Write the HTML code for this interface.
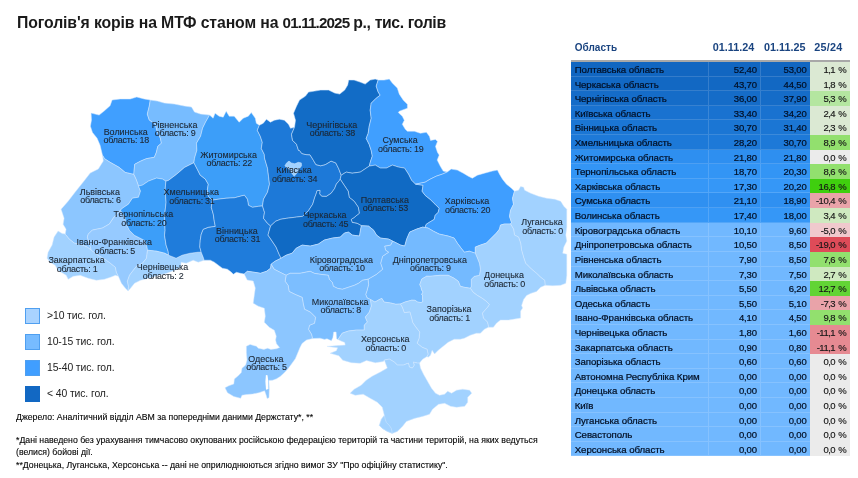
<!DOCTYPE html>
<html lang="uk"><head><meta charset="utf-8"><title>Поголів'я корів на МТФ</title>
<style>
html,body{margin:0;padding:0;background:#fff;}
body{width:858px;height:478px;position:relative;overflow:hidden;font-family:"Liberation Sans","DejaVu Sans",sans-serif;}
#title,.lt,.fn,#th,#tb,#map{will-change:transform;}
#title{position:absolute;left:17.2px;top:13.4px;font-size:15.8px;font-weight:bold;color:#1a1a1a;white-space:nowrap;line-height:20px;}
#map{position:absolute;left:0;top:0;width:858px;height:478px;}
#map text{font-family:"Liberation Sans","DejaVu Sans",sans-serif;font-size:8.95px;fill:#1c2632;stroke:#1c2632;stroke-width:.1px;text-anchor:middle;}
#map text.l2{letter-spacing:-0.24px;}
.lg{position:absolute;left:25.4px;width:12.7px;height:13.6px;border:1px solid #4f9ff0;}
.lt{position:absolute;left:47.2px;margin-top:1.2px;font-size:10.4px;letter-spacing:-0.1px;color:#222;white-space:nowrap;line-height:14px;}
.fn{position:absolute;left:16px;font-size:8.73px;color:#000;-webkit-text-stroke:0.12px #111;white-space:nowrap;line-height:12px;}
#th{position:absolute;left:0;top:39.1px;height:16px;font-weight:bold;font-size:10px;color:#1a4480;line-height:16px;}
#th span{position:absolute;white-space:nowrap;}
#th .hn{font-size:10.8px;letter-spacing:.03px;}
#tb{position:absolute;left:571px;top:59.8px;width:279.2px;border-top:2px solid #a8a8a8;}
.r{position:relative;height:14.62px;width:279.2px;font-size:9.7px;letter-spacing:-0.08px;line-height:15.6px;color:#020f24;-webkit-text-stroke:0.22px #020f24;}
.r span{position:absolute;top:0;height:100%;box-sizing:border-box;white-space:nowrap;}
.n{left:0;width:138px;padding-left:3.7px;border-right:1px solid rgba(255,255,255,.15);border-bottom:1px solid rgba(255,255,255,.15);}
.a{left:138px;width:52.4px;text-align:right;padding-right:3.6px;font-size:9.5px;letter-spacing:-0.15px;border-right:1px solid rgba(255,255,255,.15);border-bottom:1px solid rgba(255,255,255,.15);}
.b{left:190.4px;width:48.8px;text-align:right;padding-right:3.6px;font-size:9.5px;letter-spacing:-0.15px;border-bottom:1px solid rgba(255,255,255,.15);}
.p{left:239.2px;width:40px;text-align:right;padding-right:4px;color:#111;-webkit-text-stroke:0.15px #222;font-size:9.5px;letter-spacing:-0.5px;word-spacing:1px;}
.c0{background:#1469c4;} .c1{background:#1b77d6;} .c2{background:#2f90f1;} .c3{background:#71b8ff;}
.z{background:#ebebeb;} .g1{background:#dbe9d3;} .g2{background:#cfe9c0;} .g3{background:#b4e6a0;} .g4{background:#92e06e;} .g5{background:#62d435;} .g6{background:#3fcf0e;}
.r1{background:#f0c9cd;} .r2{background:#e9a3a9;} .r3{background:#e68a92;} .r4{background:#de4b58;}
</style></head><body>
<svg id="map" width="858" height="478" viewBox="0 0 858 478">
<g stroke="#d4e9ff" stroke-opacity=".62" stroke-width=".8" stroke-linejoin="round">
<path fill="#409fff" d="M102.5,155.3 100.1,145.3 97.1,138.2 92.5,132.6 90.4,126.2 91.5,120.1 91.1,113.1 99.1,115.1 104.1,111.1 110.1,105.7 112.1,100.0 120.2,99.0 130.2,99.0 136.7,97.0 144.3,99.0 150.3,100.0 149.3,106.1 147.3,114.1 149.3,120.1 155.3,124.2 157.4,132.2 160.4,138.2 161.4,143.2 157.8,146.3 156.4,152.3 154.3,157.3 146.3,158.7 140.3,161.3 134.7,164.3 133.8,174.4 125.2,172.4 119.2,167.4 110.1,162.3 104.5,158.7Z"/>
<path fill="#77bcff" d="M150.3,100.0 157.4,101.1 164.4,103.1 174.4,104.1 184.5,106.1 191.5,107.1 194.5,112.1 200.6,114.1 209.6,115.1 205.6,122.1 202.6,128.2 200.6,136.2 196.5,143.2 196.9,150.3 194.5,158.3 193.9,162.7 184.5,167.4 176.4,174.4 168.4,180.4 165.9,181.2 162.6,179.1 156.5,178.1 148.5,181.1 142.5,185.1 138.5,186.1 136.4,180.1 133.8,174.4 134.7,164.3 140.3,161.3 146.3,158.7 154.3,157.3 156.4,152.3 157.8,146.3 161.4,143.2 160.4,138.2 157.4,132.2 155.3,124.2 149.3,120.1 147.3,114.1 149.3,106.1Z"/>
<path fill="#8cc6ff" d="M65.2,234.1 66.1,229.3 63.1,224.3 64.1,218.3 61.1,209.2 68.1,201.2 75.2,192.1 83.2,182.1 90.2,173.1 98.3,169.0 103.3,161.0 102.5,155.3 104.5,158.7 110.1,162.3 119.2,167.4 125.2,172.4 133.8,174.4 136.4,180.1 138.5,186.1 140.5,191.1 138.5,197.2 132.4,198.2 128.4,204.2 122.4,208.2 120.4,210.2 113.4,218.0 109.4,224.0 102.3,228.1 92.3,230.1 88.3,234.1 87.3,237.1 89.3,243.1 91.3,250.2 87.3,247.1 82.2,245.1 74.2,243.1 69.2,239.1Z"/>
<path fill="#a2d2ff" d="M118.4,276.3 115.4,275.3 110.4,277.3 104.3,279.3 96.3,280.3 88.3,278.3 80.2,275.3 73.2,276.3 68.2,279.3 66.2,275.3 58.1,270.3 55.1,265.2 50.1,262.2 47.1,258.2 48.1,252.2 52.1,245.1 54.1,237.1 58.1,231.1 62.1,233.5 65.2,234.1 69.2,239.1 74.2,243.1 82.2,245.1 87.3,247.1 91.3,250.2 98.3,255.2 106.4,260.2 110.4,263.2 115.4,267.2 116.4,272.3Z"/>
<path fill="#96caff" d="M91.3,250.2 89.3,243.1 87.3,237.1 88.3,234.1 92.3,230.1 102.3,228.1 109.4,224.0 113.4,218.0 120.4,210.2 124.4,216.3 126.4,224.3 129.4,230.3 134.4,235.3 144.5,240.4 146.9,246.4 147.5,250.2 146.5,258.2 142.5,263.2 136.5,266.2 132.5,271.3 129.5,275.3 127.4,281.3 128.5,286.3 128.1,290.9 125.4,288.3 121.4,283.3 118.4,276.3 116.4,272.3 115.4,267.2 110.4,263.2 106.4,260.2 98.3,255.2Z"/>
<path fill="#3c9ef9" d="M138.5,186.1 142.5,185.1 148.5,181.1 156.5,178.1 162.6,179.1 165.9,181.2 165.1,190.2 166.1,202.2 164.5,216.3 165.1,230.4 164.5,235.1 166.1,245.1 168.1,251.2 168.6,255.2 164.6,253.2 156.6,251.2 147.5,250.2 146.9,246.4 144.5,240.4 134.4,235.3 129.4,230.3 126.4,224.3 124.4,216.3 120.4,210.2 122.4,208.2 128.4,204.2 132.4,198.2 138.5,197.2 140.5,191.1Z"/>
<path fill="#a2d2ff" d="M147.5,250.2 156.6,251.2 164.6,253.2 168.6,255.2 176.1,258.2 182.1,255.2 190.2,253.2 198.2,252.2 201.2,252.2 203.2,257.2 204.2,260.2 198.2,262.2 193.2,260.2 186.2,263.2 181.1,262.2 180.7,267.2 174.7,270.3 166.6,273.3 158.6,275.3 148.5,278.3 140.5,280.3 134.5,283.3 130.5,288.3 128.1,290.9 128.5,286.3 127.4,281.3 129.5,275.3 132.5,271.3 136.5,266.2 142.5,263.2 146.5,258.2Z"/>
<path fill="#1f7cdb" d="M165.9,181.2 168.4,180.4 176.4,174.4 184.5,167.4 193.9,162.7 197.2,169.1 200.2,175.1 205.3,179.1 208.3,184.2 207.3,190.2 208.3,196.2 212.3,200.2 211.3,207.3 213.3,214.3 214.3,221.3 215.3,226.4 208.3,227.4 203.2,229.4 201.2,234.4 200.2,240.4 199.8,247.1 201.2,252.2 198.2,252.2 190.2,253.2 182.1,255.2 176.1,258.2 168.6,255.2 168.1,251.2 166.1,245.1 164.5,235.1 165.1,230.4 164.5,216.3 166.1,202.2 165.1,190.2Z"/>
<path fill="#3c9ef9" d="M209.6,115.1 213.1,118.2 215.1,113.2 219.1,116.2 223.2,117.2 226.2,111.2 229.2,116.2 234.2,116.2 239.2,122.2 243.2,118.2 248.3,116.2 251.3,112.6 255.3,118.2 256.3,123.2 259.3,125.3 257.3,130.3 260.3,136.3 262.3,142.3 261.3,148.4 264.3,154.4 264.5,158.0 267.5,168.1 268.5,176.1 269.5,184.2 267.5,192.2 263.5,199.2 262.5,205.9 258.5,206.3 252.5,207.3 248.5,205.3 247.4,199.2 244.4,195.2 240.4,196.2 234.4,197.8 226.4,198.2 218.3,199.2 212.3,200.2 208.3,196.2 207.3,190.2 208.3,184.2 205.3,179.1 200.2,175.1 197.2,169.1 193.9,162.7 194.5,158.3 196.9,150.3 196.5,143.2 200.6,136.2 202.6,128.2 205.6,122.1Z"/>
<path fill="#1f7cdb" d="M212.3,200.2 218.3,199.2 226.4,198.2 234.4,197.8 240.4,196.2 244.4,195.2 247.4,199.2 248.5,205.3 252.5,207.3 258.5,206.3 262.5,205.9 264.5,212.3 263.5,218.3 267.5,223.3 270.6,225.9 268.0,235.1 272.1,241.1 276.1,247.1 279.1,254.2 281.1,258.2 275.1,261.2 271.1,264.2 270.6,268.2 266.5,271.3 260.5,273.3 254.5,272.3 247.4,271.3 244.2,274.0 240.4,273.3 236.4,272.3 233.4,274.3 231.4,272.3 227.4,269.2 222.3,268.2 218.3,265.2 214.3,262.2 210.3,260.2 204.2,260.2 203.2,257.2 201.2,252.2 199.8,247.1 200.2,240.4 201.2,234.4 203.2,229.4 208.3,227.4 215.3,226.4 214.3,221.3 213.3,214.3 211.3,207.3Z"/>
<path fill="#1d79d8" d="M259.3,125.3 263.3,123.2 266.4,119.2 270.4,122.2 274.4,120.2 279.4,119.2 284.4,120.2 288.5,124.2 290.5,128.3 294.5,127.3 291.5,134.3 292.5,140.3 296.5,144.3 298.5,150.4 299.5,150.5 301.8,153.5 306.0,154.6 310.0,154.8 312.0,158.0 313.5,160.5 315.9,164.6 320.6,165.8 325.3,164.6 331.1,161.1 335.8,162.9 338.7,168.7 341.2,175.2 340.2,179.2 339.3,180.6 336.4,184.0 334.6,188.6 331.1,193.3 326.4,196.4 321.7,196.3 319.6,193.9 320.0,190.4 317.1,190.6 315.9,194.5 314.8,197.2 312.7,204.2 308.7,210.3 302.7,216.3 294.7,217.3 286.6,218.3 280.6,219.3 275.6,221.3 270.6,225.9 267.5,223.3 263.5,218.3 264.5,212.3 262.5,205.9 263.5,199.2 267.5,192.2 269.5,184.2 268.5,176.1 267.5,168.1 264.5,158.0 264.3,154.4 261.3,148.4 262.3,142.3 260.3,136.3 257.3,130.3Z"/>
<path fill="#126cc6" d="M294.5,127.3 295.5,120.2 293.5,113.2 296.5,106.2 299.5,100.1 305.5,96.1 308.5,92.1 314.6,91.1 320.6,90.1 328.6,90.1 334.7,93.1 339.7,94.1 344.7,90.1 347.7,85.1 348.7,80.0 354.1,80.1 360.1,82.1 365.2,84.1 370.2,80.1 375.2,79.1 378.2,80.1 376.2,86.1 378.2,92.1 380.2,95.2 376.2,98.2 371.2,103.2 370.2,110.2 371.2,118.3 369.2,126.3 368.2,133.3 366.2,138.4 369.2,144.4 371.2,150.4 372.3,156.1 370.3,162.1 369.3,166.1 366.3,168.1 360.3,172.1 352.2,173.2 346.2,172.1 341.2,175.2 338.7,168.7 335.8,162.9 331.1,161.1 325.3,164.6 320.6,165.8 315.9,164.6 313.5,160.5 312.0,158.0 310.0,154.8 306.0,154.6 301.8,153.5 299.5,150.5 298.5,150.4 296.5,144.3 292.5,140.3 291.5,134.3Z"/>
<path fill="#409fff" d="M378.2,80.1 384.2,80.1 389.3,79.1 392.3,83.1 397.3,88.1 399.3,94.2 403.3,100.2 407.4,104.2 407.4,108.2 399.3,111.2 398.3,112.6 402.3,116.3 404.3,120.3 402.3,124.3 405.3,129.3 407.4,131.3 414.4,131.3 420.4,133.3 426.4,132.3 429.5,136.4 430.5,140.4 435.5,139.4 437.5,141.4 435.5,146.4 437.5,152.4 439.2,155.1 437.2,160.1 440.2,166.1 443.2,171.1 447.2,172.1 442.2,174.2 436.2,176.2 430.1,179.2 425.1,182.2 420.1,183.2 415.5,184.2 411.5,180.2 408.5,174.2 404.5,168.1 398.5,167.1 392.4,165.1 386.4,168.1 380.4,168.1 375.3,165.1 369.3,166.1 370.3,162.1 372.3,156.1 371.2,150.4 369.2,144.4 366.2,138.4 368.2,133.3 369.2,126.3 371.2,118.3 370.2,110.2 371.2,103.2 376.2,98.2 380.2,95.2 378.2,92.1 376.2,86.1Z"/>
<path fill="#106ac4" d="M341.2,175.2 346.2,172.1 352.2,173.2 360.3,172.1 366.3,168.1 369.3,166.1 375.3,165.1 380.4,168.1 386.4,168.1 392.4,165.1 398.5,167.1 404.5,168.1 408.5,174.2 411.5,180.2 415.5,184.2 423.1,185.2 422.1,191.2 425.1,195.3 430.1,199.3 435.2,204.3 439.2,208.3 438.2,212.3 435.2,215.3 434.2,219.4 429.1,222.4 426.1,224.4 425.1,227.5 422.7,227.1 416.7,229.1 409.7,232.1 406.7,239.1 404.7,246.1 400.6,245.1 392.6,241.1 388.6,239.1 380.6,238.1 376.5,235.1 373.5,230.1 368.5,226.1 361.4,225.7 357.3,223.4 352.2,222.4 351.2,219.4 354.2,217.4 359.3,213.3 358.3,207.3 354.2,201.3 349.2,197.3 348.2,191.2 344.2,185.2 340.2,179.2Z"/>
<path fill="#106ac4" d="M270.6,225.9 275.6,221.3 280.6,219.3 286.6,218.3 294.7,217.3 302.7,216.3 308.7,210.3 312.7,204.2 314.8,197.2 315.9,194.5 317.1,190.6 320.0,190.4 319.6,193.9 321.7,196.3 326.4,196.4 331.1,193.3 334.6,188.6 336.4,184.0 339.3,180.6 340.2,179.2 344.2,185.2 348.2,191.2 349.2,197.3 354.2,201.3 358.3,207.3 359.3,213.3 354.2,217.4 351.2,219.4 352.2,222.4 357.3,223.4 361.4,225.7 360.5,230.1 359.5,236.1 352.4,235.1 348.4,232.1 344.4,233.1 340.4,237.1 332.3,238.1 324.3,240.1 318.3,244.1 310.2,246.1 302.2,245.1 296.2,248.2 292.1,253.2 286.1,255.2 281.1,258.2 279.1,254.2 276.1,247.1 272.1,241.1 268.0,235.1Z"/>
<path fill="#3f9eff" d="M447.2,172.1 451.2,169.1 457.3,170.1 463.3,173.2 468.3,176.2 472.3,178.2 477.4,175.2 484.4,173.2 492.4,171.1 497.4,170.1 499.5,174.2 502.5,179.2 506.5,184.2 511.5,188.2 514.5,191.2 512.5,198.3 513.5,204.3 510.5,210.3 509.5,216.4 511.5,222.4 510.5,224.0 504.5,224.0 500.5,225.0 499.5,229.1 496.4,233.1 491.4,238.1 486.4,243.1 480.4,245.1 475.3,247.1 475.3,253.2 469.3,251.2 464.3,252.2 460.3,247.1 457.3,243.1 454.2,238.1 448.2,236.1 439.2,234.1 433.2,231.1 428.1,228.1 425.1,227.5 426.1,224.4 429.1,222.4 434.2,219.4 435.2,215.3 438.2,212.3 439.2,208.3 435.2,204.3 430.1,199.3 425.1,195.3 422.1,191.2 423.1,185.2 415.5,184.2 420.1,183.2 425.1,182.2 430.1,179.2 436.2,176.2 442.2,174.2Z"/>
<path fill="#a2d2ff" d="M514.5,191.2 518.5,190.2 520.6,186.6 523.6,187.2 524.6,190.2 530.6,193.2 538.6,196.3 546.7,198.3 554.7,199.3 560.7,201.3 563.8,206.3 566.8,209.3 566.8,220.4 566.8,227.1 565.8,235.1 566.8,241.1 563.8,247.1 562.7,253.2 566.8,254.2 566.8,263.2 566.8,275.3 565.8,283.3 560.7,285.3 552.7,285.7 545.1,285.3 544.7,280.3 540.6,277.3 536.6,273.3 531.6,269.2 528.6,266.2 525.6,263.2 523.6,257.2 521.6,250.2 520.6,243.1 518.5,237.1 514.5,235.1 513.5,229.1 510.5,224.0 511.5,222.4 509.5,216.4 510.5,210.3 513.5,204.3 512.5,198.3Z"/>
<path fill="#a2d2ff" d="M510.5,224.0 513.5,229.1 514.5,235.1 518.5,237.1 520.6,243.1 521.6,250.2 523.6,257.2 525.6,263.2 528.6,266.2 531.6,269.2 536.6,273.3 540.6,277.3 544.7,280.3 545.1,285.3 540.6,287.3 536.6,291.4 530.6,293.4 526.6,295.4 523.6,299.4 521.6,305.4 522.6,308.1 520.6,311.1 520.6,318.1 514.5,319.1 508.5,320.1 500.5,320.1 496.4,323.2 493.4,327.2 488.4,327.2 488.4,326.2 487.4,322.1 483.4,318.1 482.4,313.1 487.4,307.4 489.4,304.4 486.4,301.4 482.4,298.4 477.4,295.4 473.3,292.4 470.3,288.3 471.3,286.3 471.3,279.3 474.3,276.3 479.4,275.3 480.4,269.2 479.4,263.2 477.4,258.2 475.3,253.2 475.3,247.1 480.4,245.1 486.4,243.1 491.4,238.1 496.4,233.1 499.5,229.1 500.5,225.0 504.5,224.0Z"/>
<path fill="#74baff" d="M392.6,241.1 400.6,245.1 404.7,246.1 406.7,239.1 409.7,232.1 416.7,229.1 422.7,227.1 425.1,227.5 428.1,228.1 433.2,231.1 439.2,234.1 448.2,236.1 454.2,238.1 457.3,243.1 460.3,247.1 464.3,252.2 469.3,251.2 475.3,253.2 477.4,258.2 479.4,263.2 480.4,269.2 479.4,275.3 474.3,276.3 471.3,279.3 471.3,286.3 470.3,288.3 464.3,287.3 460.3,286.3 458.3,281.3 454.2,278.3 448.2,275.3 440.2,275.3 430.1,276.3 426.7,276.2 421.8,279.0 419.8,284.6 421.1,287.5 421.6,290.0 423.1,292.0 421.6,294.5 422.6,295.1 422.5,298.0 422.9,301.6 421.1,302.6 417.6,302.1 415.1,300.3 411.6,300.2 405.0,302.1 400.3,304.0 395.9,304.3 390.3,302.9 384.0,302.1 381.9,298.4 379.8,299.3 374.9,302.1 370.5,299.5 367.1,297.9 365.7,294.4 367.1,290.2 368.6,284.6 368.0,279.2 376.5,274.3 382.6,269.2 380.6,263.2 382.6,256.2 388.6,252.2 385.6,250.2 384.6,246.1 390.6,245.1Z"/>
<path fill="#a2d2ff" d="M400.3,304.0 405.0,302.1 411.6,300.2 415.1,300.3 417.6,302.1 421.1,302.6 422.9,301.6 422.5,298.0 422.6,295.1 421.6,294.5 423.1,292.0 421.6,290.0 421.1,287.5 419.8,284.6 421.8,279.0 426.7,276.2 430.1,276.3 440.2,275.3 448.2,275.3 454.2,278.3 458.3,281.3 460.3,286.3 464.3,287.3 470.3,288.3 473.3,292.4 477.4,295.4 482.4,298.4 486.4,301.4 489.4,304.4 487.4,307.4 482.4,313.1 483.4,318.1 487.4,322.1 488.4,326.2 488.4,327.2 484.4,329.2 480.4,333.2 476.4,333.2 470.3,335.2 464.3,338.2 460.3,339.2 454.2,339.2 448.2,342.2 443.2,346.3 438.2,350.3 434.6,353.9 432.1,350.3 430.5,355.3 428.1,357.3 427.0,356.5 428.1,354.3 427.1,349.3 422.1,347.3 417.1,343.2 419.1,338.2 419.7,332.0 415.5,326.7 412.7,322.5 411.3,316.9 409.9,312.0 404.3,312.7 402.2,307.1Z"/>
<path fill="#74baff" d="M281.1,258.2 286.1,255.2 292.1,253.2 296.2,248.2 302.2,245.1 310.2,246.1 318.3,244.1 324.3,240.1 332.3,238.1 340.4,237.1 344.4,233.1 348.4,232.1 352.4,235.1 359.5,236.1 360.5,230.1 361.4,225.7 368.5,226.1 373.5,230.1 376.5,235.1 380.6,238.1 388.6,239.1 392.6,241.1 390.6,245.1 384.6,246.1 385.6,250.2 388.6,252.2 382.6,256.2 380.6,263.2 382.6,269.2 376.5,274.3 368.0,279.2 362.5,280.3 358.5,283.3 354.4,285.3 348.4,287.3 342.4,289.3 337.4,288.3 333.3,286.3 332.3,282.3 329.3,279.3 328.3,275.3 320.3,274.3 314.2,273.3 310.2,271.3 300.2,273.3 290.1,273.3 286.1,275.3 280.1,272.3 274.1,269.2 271.1,264.2 275.1,261.2Z"/>
<path fill="#7cbeff" d="M286.1,275.3 290.1,273.3 300.2,273.3 310.2,271.3 314.2,273.3 320.3,274.3 328.3,275.3 329.3,279.3 332.3,282.3 333.3,286.3 337.4,288.3 342.4,289.3 348.4,287.3 354.4,285.3 358.5,283.3 362.5,280.3 368.0,279.2 368.6,284.6 367.1,290.2 365.7,294.4 367.1,297.9 370.5,299.5 371.4,306.0 369.4,312.1 365.3,317.1 367.4,322.1 364.3,325.1 364.3,330.1 356.3,330.1 348.3,331.1 342.2,333.2 338.0,339.5 336.6,338.8 336.1,332.0 333.7,332.0 332.9,337.6 331.4,340.7 327.0,338.8 324.5,339.4 320.0,338.2 312.5,338.6 311.5,334.3 308.5,329.3 309.5,325.3 314.5,323.2 315.5,317.2 310.5,312.2 304.5,309.2 303.2,303.4 302.2,297.4 295.2,294.4 289.1,291.4 288.1,285.3 285.1,281.3Z"/>
<path fill="#a2d2ff" d="M370.5,299.5 374.9,302.1 379.8,299.3 381.9,298.4 384.0,302.1 390.3,302.9 395.9,304.3 400.3,304.0 402.2,307.1 404.3,312.7 409.9,312.0 411.3,316.9 412.7,322.5 415.5,326.7 419.7,332.0 419.1,338.2 417.1,343.2 422.1,347.3 427.1,349.3 428.1,354.3 427.0,356.5 422.6,359.3 419.5,363.1 417.4,363.1 413.4,362.1 414.4,365.1 412.4,368.1 409.4,367.1 408.4,363.1 403.4,365.1 397.4,365.1 394.3,362.1 389.3,359.1 384.3,360.1 383.4,361.6 375.3,362.7 366.5,360.5 360.2,363.3 351.4,362.7 342.7,360.2 338.9,355.8 330.1,353.3 336.4,350.7 337.6,347.8 327.0,346.4 337.6,345.6 345.2,345.1 344.7,342.4 341.0,341.0 338.0,339.5 342.2,333.2 348.3,331.1 356.3,330.1 364.3,330.1 364.3,325.1 367.4,322.1 365.3,317.1 369.4,312.1 371.4,306.0Z"/>
<path fill="#8cc6ff" d="M286.1,275.3 285.1,281.3 288.1,285.3 289.1,291.4 295.2,294.4 302.2,297.4 303.2,303.4 304.5,309.2 310.5,312.2 315.5,317.2 314.5,323.2 309.5,325.3 308.5,329.3 311.5,334.3 312.5,338.6 306.5,340.0 302.0,343.5 300.0,347.5 297.5,353.5 295.3,358.8 291.5,364.0 287.8,368.9 284.0,373.0 280.2,376.4 276.5,378.8 272.7,380.2 268.9,380.4 269.3,388.9 269.0,397.7 267.1,398.5 266.2,395.2 264.6,390.8 258.9,392.7 252.6,394.0 246.4,394.6 242.0,395.2 240.7,398.3 233.8,396.5 227.5,392.7 225.0,387.7 228.8,385.8 233.8,383.9 234.4,378.9 238.2,375.8 241.3,372.6 242.0,368.2 245.7,365.1 247.0,360.1 246.4,352.5 246.4,346.3 250.1,344.4 256.4,346.3 258.3,348.2 263.9,349.4 267.7,348.2 270.8,349.4 276.5,348.8 279.6,347.5 276.5,343.8 275.6,340.0 276.3,336.2 274.3,330.3 269.3,327.3 264.3,322.2 265.3,316.2 264.3,308.2 258.3,306.2 253.2,303.2 254.2,296.1 255.3,288.1 253.2,281.1 247.2,280.0 244.2,274.0 247.4,271.3 254.5,272.3 260.5,273.3 266.5,271.3 270.6,268.2 271.1,264.2 274.1,269.2 280.1,272.3Z"/>
<path fill="#a2d2ff" d="M384.3,360.1 389.3,359.1 394.3,362.1 397.4,365.1 403.4,365.1 408.4,363.1 409.4,367.1 412.4,368.1 414.4,365.1 413.4,362.1 417.4,363.1 419.5,363.1 420.5,368.1 423.5,374.2 427.5,381.2 431.5,388.2 435.5,393.2 439.5,395.3 444.6,394.2 447.6,391.2 451.6,393.2 456.6,390.2 462.7,389.2 469.7,390.2 471.7,393.2 467.7,397.3 467.7,402.3 464.7,406.3 456.6,407.3 450.6,406.3 444.6,403.3 438.5,404.3 432.5,409.3 429.5,414.3 422.5,416.4 414.4,418.4 406.4,421.4 402.4,426.4 397.4,431.4 392.3,433.4 387.3,431.4 382.3,428.4 379.3,425.4 381.3,419.4 384.3,415.3 382.3,407.3 377.3,402.3 370.2,398.3 363.2,394.2 355.2,395.3 350.1,393.2 354.2,389.2 361.2,385.2 366.2,380.2 372.2,376.2 380.3,372.1 387.3,368.1Z"/>
<path fill="#a2d2ff" d="M384.3,415.3 385.3,419.4 386.3,422.4 389.3,425.4 391.3,428.4 392.3,433.4 387.3,431.4 382.3,428.4 379.3,425.4 381.3,419.4Z"/>
<path fill="#a2d2ff" d="M289.0,161.1 291.3,162.9 294.8,163.8 298.3,162.3 301.3,162.9 301.6,165.8 298.9,169.3 297.2,172.8 294.2,176.3 291.9,173.4 290.1,169.9 286.6,167.6 284.9,165.8 286.6,162.9Z"/>
<path fill="#fff" stroke="none" d="M265.9,375.1 267.5,375.3 268.2,380.4 268.4,388.9 266.0,389.7 265.4,381.4Z"/>
</g>
<g>
<text x="125.7" y="134.6">Волинська</text><text class="l2" x="126.3" y="143.2">область: 18</text>
<text x="174.5" y="127.6">Рівненська</text><text class="l2" x="175.1" y="136.2">область: 9</text>
<text x="228.6" y="157.7">Житомирська</text><text class="l2" x="229.2" y="166.4">область: 22</text>
<text x="294.0" y="173.1">Київська</text><text class="l2" x="294.6" y="181.7">область: 34</text>
<text x="331.8" y="127.7">Чернігівська</text><text class="l2" x="332.40000000000003" y="136.3">область: 38</text>
<text x="400.1" y="143.4">Сумська</text><text class="l2" x="400.70000000000005" y="152.0">область: 19</text>
<text x="384.8" y="202.7">Полтавська</text><text class="l2" x="385.40000000000003" y="211.3">область: 53</text>
<text x="467.0" y="204.3">Харківська</text><text class="l2" x="467.6" y="212.9">область: 20</text>
<text x="542.0" y="225.4">Луганська</text><text class="l2" x="542.6" y="234.0">область: 0</text>
<text x="504.0" y="277.9">Донецька</text><text class="l2" x="504.6" y="286.6">область: 0</text>
<text x="429.8" y="262.6">Дніпропетровська</text><text class="l2" x="430.40000000000003" y="271.3">область: 9</text>
<text x="449.0" y="312.2">Запорізька</text><text class="l2" x="449.6" y="321.0">область: 1</text>
<text x="385.2" y="342.2">Херсонська</text><text class="l2" x="385.8" y="350.8">область: 0</text>
<text x="340.2" y="304.6">Миколаївська</text><text class="l2" x="340.8" y="313.2">область: 8</text>
<text x="341.4" y="262.6">Кіровоградська</text><text class="l2" x="342.0" y="271.3">область: 10</text>
<text x="325.0" y="218.0">Черкаська</text><text class="l2" x="325.6" y="226.5">область: 45</text>
<text x="236.9" y="233.8">Вінницька</text><text class="l2" x="237.5" y="242.3">область: 31</text>
<text x="191.3" y="195.2">Хмельницька</text><text class="l2" x="191.9" y="203.8">область: 31</text>
<text x="143.3" y="217.3">Тернопільська</text><text class="l2" x="143.9" y="225.9">область: 20</text>
<text x="99.9" y="194.6">Львівська</text><text class="l2" x="100.5" y="203.2">область: 6</text>
<text x="114.2" y="245.1">Івано-Франківська</text><text class="l2" x="114.8" y="254.0">область: 5</text>
<text x="76.5" y="262.6">Закарпатська</text><text class="l2" x="77.1" y="271.5">область: 1</text>
<text x="162.5" y="270.3">Чернівецька</text><text class="l2" x="163.1" y="279.2">область: 2</text>
<text x="265.9" y="361.5">Одеська</text><text class="l2" x="266.5" y="370.2">область: 5</text>
</g></svg>
<div id="title"><span style="letter-spacing:-0.118px">Поголів'я корів на МТФ станом на </span><span style="font-size:15.2px;letter-spacing:-0.85px">01.11.2025</span><span style="letter-spacing:-0.37px"> р., тис. голів</span></div>
<div class="lg" style="top:308px;background:#a9d3ff"></div><div class="lt" style="top:308px">&gt;10 тис. гол.</div>
<div class="lg" style="top:334px;background:#77bbff"></div><div class="lt" style="top:334px">10-15 тис. гол.</div>
<div class="lg" style="top:360px;background:#409eff"></div><div class="lt" style="top:360px">15-40 тис. гол.</div>
<div class="lg" style="top:386px;background:#1268c3;border-color:#1268c3"></div><div class="lt" style="top:386px">&lt; 40 тис. гол.</div>
<div class="fn" style="top:410.5px">Джерело: Аналітичний відділ АВМ за попередніми даними Держстату*, **</div>
<div class="fn" style="top:434.1px">*Дані наведено без урахування тимчасово окупованих російською федерацією територій та частини територій, на яких ведуться</div>
<div class="fn" style="top:446px">(велися) бойові дії.</div>
<div class="fn" style="top:458.9px">**Донецька, Луганська, Херсонська -- дані не оприлюднюються згідно вимог ЗУ "Про офіційну статистику".</div>
<div id="th"><span style="left:574.8px;top:0.9px">Область</span><span class="hn" style="right:-754.4px" id="h1">01.11.24</span><span class="hn" style="right:-805.6px" id="h2">01.11.25</span><span class="hn" style="right:-842.5px;letter-spacing:.25px" id="h3">25/24</span></div>
<div id="tb">
<div class="r" style="background:#1166c1"><span class="n">Полтавська область</span><span class="a">52,40</span><span class="b">53,00</span><span class="p g1">1,1 %</span></div>
<div class="r" style="background:#1268c3"><span class="n">Черкаська область</span><span class="a">43,70</span><span class="b">44,50</span><span class="p g1">1,8 %</span></div>
<div class="r" style="background:#156cc8"><span class="n">Чернігівська область</span><span class="a">36,00</span><span class="b">37,90</span><span class="p g3">5,3 %</span></div>
<div class="r" style="background:#1972d0"><span class="n">Київська область</span><span class="a">33,40</span><span class="b">34,20</span><span class="p g1">2,4 %</span></div>
<div class="r" style="background:#1b76d4"><span class="n">Вінницька область</span><span class="a">30,70</span><span class="b">31,40</span><span class="p g1">2,3 %</span></div>
<div class="r" style="background:#1d79d8"><span class="n">Хмельницька область</span><span class="a">28,20</span><span class="b">30,70</span><span class="p g4">8,9 %</span></div>
<div class="r" style="background:#2e8ff0"><span class="n">Житомирська область</span><span class="a">21,80</span><span class="b">21,80</span><span class="p z">0,0 %</span></div>
<div class="r" style="background:#3395f5"><span class="n">Тернопільська область</span><span class="a">18,70</span><span class="b">20,30</span><span class="p g4">8,6 %</span></div>
<div class="r" style="background:#3597f7"><span class="n">Харківська область</span><span class="a">17,30</span><span class="b">20,20</span><span class="p g6">16,8 %</span></div>
<div class="r" style="background:#2f90f1"><span class="n">Сумська область</span><span class="a">21,10</span><span class="b">18,90</span><span class="p r2">-10,4 %</span></div>
<div class="r" style="background:#3597f7"><span class="n">Волинська область</span><span class="a">17,40</span><span class="b">18,00</span><span class="p g2">3,4 %</span></div>
<div class="r" style="background:#71b8ff"><span class="n">Кіровоградська область</span><span class="a">10,10</span><span class="b">9,60</span><span class="p r1">-5,0 %</span></div>
<div class="r" style="background:#71b8ff"><span class="n">Дніпропетровська область</span><span class="a">10,50</span><span class="b">8,50</span><span class="p r4">-19,0 %</span></div>
<div class="r" style="background:#71b8ff"><span class="n">Рівненська область</span><span class="a">7,90</span><span class="b">8,50</span><span class="p g4">7,6 %</span></div>
<div class="r" style="background:#71b8ff"><span class="n">Миколаївська область</span><span class="a">7,30</span><span class="b">7,50</span><span class="p g2">2,7 %</span></div>
<div class="r" style="background:#71b8ff"><span class="n">Львівська область</span><span class="a">5,50</span><span class="b">6,20</span><span class="p g5">12,7 %</span></div>
<div class="r" style="background:#71b8ff"><span class="n">Одеська область</span><span class="a">5,50</span><span class="b">5,10</span><span class="p r2">-7,3 %</span></div>
<div class="r" style="background:#71b8ff"><span class="n">Івано-Франківська область</span><span class="a">4,10</span><span class="b">4,50</span><span class="p g4">9,8 %</span></div>
<div class="r" style="background:#71b8ff"><span class="n">Чернівецька область</span><span class="a">1,80</span><span class="b">1,60</span><span class="p r3">-11,1 %</span></div>
<div class="r" style="background:#71b8ff"><span class="n">Закарпатська область</span><span class="a">0,90</span><span class="b">0,80</span><span class="p r3">-11,1 %</span></div>
<div class="r" style="background:#71b8ff"><span class="n">Запорізька область</span><span class="a">0,60</span><span class="b">0,60</span><span class="p z">0,0 %</span></div>
<div class="r" style="background:#71b8ff"><span class="n">Автономна Республіка Крим</span><span class="a">0,00</span><span class="b">0,00</span><span class="p z">0,0 %</span></div>
<div class="r" style="background:#71b8ff"><span class="n">Донецька область</span><span class="a">0,00</span><span class="b">0,00</span><span class="p z">0,0 %</span></div>
<div class="r" style="background:#71b8ff"><span class="n">Київ</span><span class="a">0,00</span><span class="b">0,00</span><span class="p z">0,0 %</span></div>
<div class="r" style="background:#71b8ff"><span class="n">Луганська область</span><span class="a">0,00</span><span class="b">0,00</span><span class="p z">0,0 %</span></div>
<div class="r" style="background:#71b8ff"><span class="n">Севастополь</span><span class="a">0,00</span><span class="b">0,00</span><span class="p z">0,0 %</span></div>
<div class="r" style="background:#71b8ff"><span class="n">Херсонська область</span><span class="a">0,00</span><span class="b">0,00</span><span class="p z">0,0 %</span></div>
</div>
</body></html>
